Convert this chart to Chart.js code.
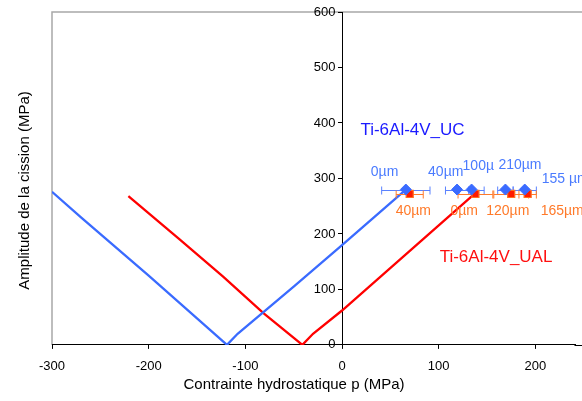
<!DOCTYPE html>
<html>
<head>
<meta charset="utf-8">
<script src="https://cdn.jsdelivr.net/npm/chart.js@4"></script>
<style>
  body { margin: 0; background: #fff; }
  canvas { display: block; }
</style>
</head>
<body>
<canvas id="cissionChart" width="582" height="401"></canvas>
<script>
// droites d'amorcage : amplitude de cission vs contrainte hydrostatique
const ucPressure = [-300, -270, -200, -150, -119, -108, -50, 0, 66];
const ucTau = [276, 230, 125, 48, 0, 20, 105, 180, 280];
const ualPressure = [-221, -168, -123, -81, -41, -30, 0, 137];
const ualTau = [268, 190, 123, 57, 0, 20, 62, 272];

// points mesures (profondeur) + barres d'erreur horizontales
const ucPointP = [66, 119, 134, 169, 189];
const ucPointTau = [280, 280, 280, 280, 280];
const ucPointErr = [25, 12, 13, 8, 12];
const ucPointLabels = ["0µm", "40µm", "100µ", "210µm", "155 µm"];

const ualPointP = [70, 138, 175, 192];
const ualPointTau = [272, 272, 272, 272];
const ualPointErr = [14, 18, 18, 9];
const ualPointLabels = ["40µm", "0µm", "120µm", "165µm"];

const xTicks = [-300, -200, -100, 0, 100, 200];
const yTicks = [0, 100, 200, 300, 400, 500, 600];

const seriesNames = ["Ti-6Al-4V_UC", "Ti-6Al-4V_UAL"];

// placement des textes (pixels par rapport au point)
const ucLabelOffsets = [[-35, -14], [-29, -14], [-9, -20], [-7, -21], [17, -7]];
const ualLabelOffsets = [[-14, 21], [-25, 21], [-25, 21], [13, 21]];
const nameAnchors = [{ x: 19, y: 378, color: "#1a1aff" }, { x: 101, y: 150, color: "#ff1010" }];

const BLUE = "#3a6bff";
const RED = "#ff0000";
const ORANGE = "#ff7a2a";
const FONT = "'Liberation Sans', Arial, sans-serif";

const toPoints = (xs, ys) => xs.map((x, i) => ({ x, y: ys[i] }));

// cadre gris (haut + gauche), prolonge jusqu'au bord droit comme l'original rogne
const frame = {
  id: "frame",
  beforeDraw(chart) {
    const { ctx, chartArea: a, width } = chart;
    ctx.save();
    ctx.strokeStyle = "#a8a8a8";
    ctx.lineWidth = 1.5;
    ctx.beginPath();
    ctx.moveTo(a.left, a.bottom);
    ctx.lineTo(a.left, a.top);
    ctx.lineTo(width, a.top);
    ctx.stroke();
    ctx.strokeStyle = "#000";
    ctx.lineWidth = 1;
    ctx.beginPath();
    ctx.moveTo(a.right - 1, Math.round(a.bottom) + 0.5);
    ctx.lineTo(width, Math.round(a.bottom) + 0.5);
    ctx.stroke();
    ctx.restore();
  }
};

function drawErrorBars(chart, ps, taus, errs, color) {
  const { ctx, scales: { x, y } } = chart;
  ctx.save();
  ctx.strokeStyle = color;
  ctx.lineWidth = 1;
  ps.forEach((p, i) => {
    const py = Math.round(y.getPixelForValue(taus[i])) + 0.5;
    const x1 = x.getPixelForValue(p - errs[i]);
    const x2 = x.getPixelForValue(p + errs[i]);
    ctx.beginPath();
    ctx.moveTo(x1, py);
    ctx.lineTo(x2, py);
    ctx.moveTo(x1, py - 4);
    ctx.lineTo(x1, py + 4);
    ctx.moveTo(x2, py - 4);
    ctx.lineTo(x2, py + 4);
    ctx.stroke();
  });
  ctx.restore();
}

const errorBars = {
  id: "errorBars",
  afterDatasetDraw(chart, args) {
    // apres les courbes, avant les marqueurs
    if (args.index !== 2) return;
    drawErrorBars(chart, ucPointP, ucPointTau, ucPointErr, "#5a82ff");
    drawErrorBars(chart, ualPointP, ualPointTau, ualPointErr, ORANGE);
  }
};

const texts = {
  id: "texts",
  afterDraw(chart) {
    const { ctx, scales: { x, y }, chartArea: a } = chart;
    ctx.save();
    ctx.textBaseline = "alphabetic";
    ctx.textAlign = "left";

    ctx.font = "14px " + FONT;
    ctx.fillStyle = "#4a7bff";
    ucPointLabels.forEach((t, i) => {
      const px = x.getPixelForValue(ucPointP[i]) + ucLabelOffsets[i][0];
      const py = y.getPixelForValue(ucPointTau[i]) + ucLabelOffsets[i][1];
      ctx.fillText(t, px, py);
    });
    ctx.fillStyle = ORANGE;
    ualPointLabels.forEach((t, i) => {
      const px = x.getPixelForValue(ualPointP[i]) + ualLabelOffsets[i][0];
      const py = y.getPixelForValue(ualPointTau[i]) + ualLabelOffsets[i][1];
      ctx.fillText(t, px, py);
    });

    ctx.font = "17px " + FONT;
    seriesNames.forEach((name, i) => {
      ctx.fillStyle = nameAnchors[i].color;
      ctx.fillText(name, x.getPixelForValue(nameAnchors[i].x), y.getPixelForValue(nameAnchors[i].y));
    });

    // titres des axes
    ctx.fillStyle = "#000";
    ctx.font = "15px " + FONT;
    ctx.textAlign = "center";
    ctx.fillText("Contrainte hydrostatique p (MPa)", 294, 389);
    ctx.translate(29, (a.top + a.bottom) / 2 + 12);
    ctx.rotate(-Math.PI / 2);
    ctx.fillText("Amplitude de la cission (MPa)", 0, 0);
    ctx.restore();
  }
};

// seules les graduations de xTicks / yTicks sont tracees
const tickColor = (list) => (c) => (c.tick && list.includes(c.tick.value) ? "#000" : "rgba(0,0,0,0)");

new Chart(document.getElementById("cissionChart"), {
  type: "scatter",
  data: {
    datasets: [
      {
        label: "UC mesures",
        data: toPoints(ucPointP, ucPointTau),
        pointStyle: "rectRot",
        pointRadius: 5.5,
        backgroundColor: BLUE,
        borderColor: BLUE,
        borderWidth: 1
      },
      {
        label: "UAL mesures",
        data: toPoints(ualPointP, ualPointTau),
        pointStyle: "rect",
        pointRadius: 5,
        backgroundColor: "#ff1a00",
        borderColor: "#ff7020",
        borderWidth: 1.2
      },
      {
        label: seriesNames[0],
        data: toPoints(ucPressure, ucTau),
        showLine: true,
        pointRadius: 0,
        borderColor: BLUE,
        borderWidth: 2.3,
        tension: 0
      },
      {
        label: seriesNames[1],
        data: toPoints(ualPressure, ualTau),
        showLine: true,
        pointRadius: 0,
        borderColor: RED,
        borderWidth: 2.3,
        tension: 0
      }
    ]
  },
  options: {
    responsive: false,
    devicePixelRatio: 1,
    animation: false,
    layout: { padding: { left: 52, right: 0, top: 12, bottom: 16.5 } },
    plugins: {
      legend: { display: false },
      tooltip: { enabled: false }
    },
    scales: {
      x: {
        type: "linear",
        min: -300,
        max: 241.5,
        afterBuildTicks: (s) => { s.ticks = xTicks.map(v => ({ value: v })); },
        ticks: { color: "#000", font: { family: FONT, size: 13 }, padding: 10, maxRotation: 0 },
        grid: { drawOnChartArea: false, tickLength: 4, color: tickColor(xTicks) },
        border: { color: "#000", width: 1 }
      },
      y: {
        type: "linear",
        position: { x: 0 },
        min: 0,
        max: 600,
        afterBuildTicks: (s) => { s.ticks = yTicks.map(v => ({ value: v })); },
        afterFit: (s) => { s.paddingTop = 0; s.paddingBottom = 0; },
        ticks: { color: "#000", font: { family: FONT, size: 13 }, callback: (v) => v + "\u2002" },
        grid: { drawOnChartArea: false, tickLength: 4, color: tickColor(yTicks) },
        border: { color: "#000", width: 1 }
      }
    }
  },
  plugins: [frame, errorBars, texts]
});
</script>
</body>
</html>
